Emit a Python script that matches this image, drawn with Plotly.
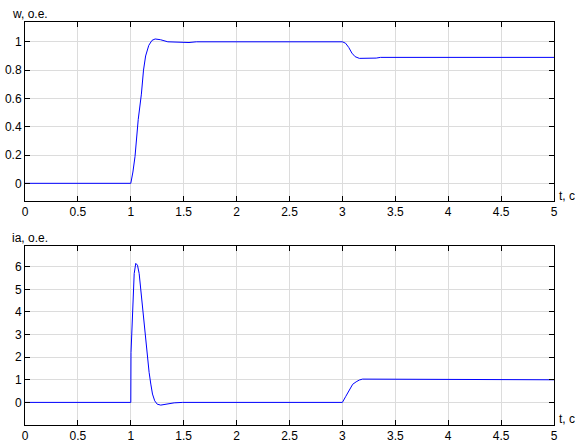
import plotly.graph_objects as go
from plotly.subplots import make_subplots

# speed w, o.e.
t_w = [0, 1.0, 1.02, 1.04, 1.07, 1.10, 1.12, 1.14, 1.17, 1.20, 1.23, 1.28, 1.35,
       1.45, 1.55, 1.62, 3.0, 3.03, 3.06, 3.09, 3.12, 3.16, 3.25, 3.32, 3.36, 5.0]
w = [0, 0, 0.08, 0.19, 0.45, 0.63, 0.80, 0.90, 0.975, 1.01, 1.02, 1.015, 1.0,
     0.995, 0.995, 1.0, 1.0, 0.99, 0.96, 0.92, 0.895, 0.883, 0.883, 0.885, 0.89, 0.89]

# armature current ia, o.e.
t_ia = [0, 1.0, 1.002, 1.016, 1.025, 1.032, 1.047, 1.063, 1.079, 1.094, 1.11, 1.126,
        1.142, 1.157, 1.173, 1.189, 1.205, 1.226, 1.25, 1.283, 1.32, 1.362, 1.41, 1.49,
        3.0, 3.03, 3.065, 3.097, 3.13, 3.16, 3.19, 3.31, 3.34, 5.0]
ia = [0, 0, 2.2, 3.94, 4.97, 5.7, 6.15, 6.07, 5.7, 4.97, 4.4, 3.68,
      2.95, 2.07, 1.33, 0.81, 0.37, 0.07, -0.08, -0.12, -0.09, -0.04, -0.02, 0,
      0, 0.25, 0.54, 0.8, 0.91, 0.99, 1.03, 1.03, 1.0, 1.0]

w_ticks = [0, 0.2, 0.4, 0.6, 0.8, 1]
ia_ticks = [0, 1, 2, 3, 4, 5, 6]

fig = make_subplots(rows=2, cols=1, vertical_spacing=0.1)
fig.add_trace(go.Scatter(x=t_w, y=w, mode='lines', line=dict(color='#0000ff', width=1)), row=1, col=1)
fig.add_trace(go.Scatter(x=t_ia, y=ia, mode='lines', line=dict(color='#0000ff', width=1)), row=2, col=1)

axis_style = dict(showline=True, linecolor='black', linewidth=1, mirror='ticks',
                  ticks='inside', ticklen=5, tickcolor='black', automargin=False,
                  showgrid=True, gridcolor='#dcdcdc', gridwidth=1, zeroline=False,
                  tickfont=dict(family='Liberation Sans', size=12, color='black'))

fig.update_xaxes(range=[0, 5], dtick=0.5, tick0=0, **axis_style)
fig.update_yaxes(**axis_style)
fig.update_yaxes(range=[-0.125, 1.14], tickvals=w_ticks, domain=[0.5558, 1], row=1, col=1)
fig.update_yaxes(range=[-1, 6.94], tickvals=ia_ticks, domain=[0, 0.4454], row=2, col=1)

lab = dict(xref='paper', yref='paper', showarrow=False,
           font=dict(family='Liberation Sans', size=12, color='black'))
fig.add_annotation(text='w, o.e.', x=-0.0284, y=1.021, xanchor='left', yanchor='middle', **lab)
fig.add_annotation(text='ia, o.e.', x=-0.0284, y=0.4628, xanchor='left', yanchor='middle', **lab)
fig.add_annotation(text='t, c', x=1.0057, y=0.568, xanchor='left', yanchor='middle', **lab)
fig.add_annotation(text='t, c', x=1.0057, y=0.0149, xanchor='left', yanchor='middle', **lab)

fig.update_layout(
    width=578,
    height=448,
    margin=dict(l=25, r=24, t=22, b=23),
    showlegend=False,
    plot_bgcolor='white',
    paper_bgcolor='white',
)

# drop the default 8px body margin so the figure fills the window
fig.write_html("out.html", config={'displayModeBar': False},
               post_script="document.body.style.margin = '0';")
